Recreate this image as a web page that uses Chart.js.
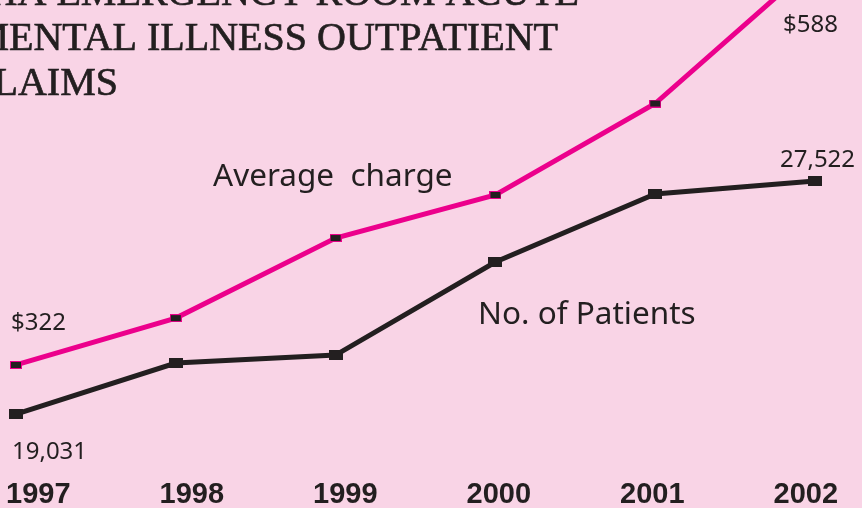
<!DOCTYPE html>
<html>
<head>
<meta charset="utf-8">
<script src="https://cdn.jsdelivr.net/npm/chart.js@4.4.1/dist/chart.umd.min.js"></script>
<style>
  html, body { margin: 0; padding: 0; background: #F9D4E6; overflow: hidden; }
  canvas { display: block; }
</style>
</head>
<body>
<canvas id="c" width="862" height="508"></canvas>
<script>
// ---- data ----
const years = [1997, 1998, 1999, 2000, 2001, 2002];
const averageCharge = [322, 353, 406, 434.5, 495, 588];          // dollars
const patientCount = [19031, 20890, 21180, 24570, 27050, 27522]; // patients
const titleLines = ['HA EMERGENCY ROOM ACUTE', 'MENTAL ILLNESS OUTPATIENT', 'CLAIMS'];
const seriesNames = ['Average  charge', 'No. of Patients'];

// ---- styles ----
const BG = '#F9D4E6';
const PINK = '#EC008C';
const INK = '#231F20';

function makeRect(w, h, fill, stroke, sw) {
  const c = document.createElement('canvas');
  c.width = w; c.height = h;
  const g = c.getContext('2d');
  g.fillStyle = stroke || fill;
  g.fillRect(0, 0, w, h);
  if (stroke) { g.fillStyle = fill; g.fillRect(sw, sw, w - 2 * sw, h - 2 * sw); }
  return c;
}
const pinkMarker = makeRect(12, 8, INK, PINK, 1);
const blackMarker = makeRect(14, 10, INK);

const fmt = n => Math.round(n).toLocaleString('en-US');

const decor = {
  id: 'decor',
  beforeDraw(chart) {
    const ctx = chart.ctx;
    ctx.save();
    ctx.fillStyle = BG;
    ctx.fillRect(0, 0, chart.width, chart.height);
    ctx.restore();
  },
  afterDraw(chart) {
    const ctx = chart.ctx;
    const xs = chart.scales.x, yP = chart.scales.yPink, yB = chart.scales.yBlack;
    ctx.save();
    // title (cropped serif heading)
    ctx.fillStyle = INK;
    ctx.strokeStyle = INK;
    ctx.lineWidth = 0.7;
    ctx.font = '41px "Liberation Serif", serif';
    ctx.textBaseline = 'alphabetic';
    const ref = ctx.measureText('ENTAL ILLNESS OUTPATIENT').width;
    const sx = 549 / ref;
    const rights = [579, 558, 118];
    const bases = [5, 50, 95];
    titleLines.forEach((t, i) => {
      ctx.save();
      ctx.translate(rights[i], bases[i]);
      ctx.scale(sx, 1);
      ctx.textAlign = 'right';
      ctx.fillText(t, 0, 0);
      ctx.strokeText(t, 0, 0);
      ctx.restore();
    });

    // series names
    ctx.textAlign = 'left';
    ctx.font = '31.5px "Noto Sans", sans-serif';
    ctx.fillText(seriesNames[0], 213, 186);
    ctx.fillText(seriesNames[1], 478, 324);

    // end value labels, placed relative to the points
    ctx.font = '24px "Noto Sans", sans-serif';
    const last = years.length - 1;
    const x0 = xs.getPixelForValue(years[0]);
    const xN = xs.getPixelForValue(years[last]);
    ctx.fillText('$' + fmt(averageCharge[0]), x0 - 5, yP.getPixelForValue(averageCharge[0]) - 35);
    ctx.fillText(fmt(patientCount[0]), x0 - 4, yB.getPixelForValue(patientCount[0]) + 45);
    ctx.fillText('$' + fmt(averageCharge[last]), xN - 32, yP.getPixelForValue(averageCharge[last]) + 69);
    ctx.fillText(fmt(patientCount[last]), xN - 35, yB.getPixelForValue(patientCount[last]) - 14);
    ctx.restore();
  }
};

new Chart(document.getElementById('c'), {
  type: 'line',
  data: {
    datasets: [
      {
        label: seriesNames[0],
        data: years.map((y, i) => ({ x: y, y: averageCharge[i] })),
        yAxisID: 'yPink',
        xAxisID: 'x',
        borderColor: PINK,
        borderWidth: 5,
        pointStyle: pinkMarker,
        pointRadius: 6,
        tension: 0,
        clip: false
      },
      {
        label: seriesNames[1],
        data: years.map((y, i) => ({ x: y, y: patientCount[i] })),
        yAxisID: 'yBlack',
        xAxisID: 'x',
        borderColor: INK,
        borderWidth: 5,
        pointStyle: blackMarker,
        pointRadius: 7,
        tension: 0,
        clip: false
      }
    ]
  },
  options: {
    responsive: false,
    animation: false,
    devicePixelRatio: 1,
    layout: { padding: 0, autoPadding: false },
    plugins: { legend: { display: false }, tooltip: { enabled: false }, title: { display: false } },
    scales: {
      x: { type: 'linear', display: false, position: 'bottom', min: 1996.8999, max: 2002.2942 },
      xYears: {
        type: 'linear', position: 'bottom', min: 1996.7505, max: 2002.3661,
        grid: { display: false, drawTicks: false },
        border: { display: false },
        afterBuildTicks: s => { s.ticks = years.map(v => ({ value: v })); },
        afterFit: s => { s.height = 35; s.paddingLeft = 0; s.paddingRight = 0; s.paddingTop = 0; s.paddingBottom = 0; },
        ticks: {
          autoSkip: false, maxRotation: 0, padding: 5,
          color: INK,
          font: { family: '"Liberation Sans", Arial, sans-serif', size: 29, weight: 'bold' },
          callback: v => String(v)
        }
      },
      yBlack: { type: 'linear', display: false, min: 16882.5, max: 34118.6 },
      yPink: { type: 'linear', display: false, min: 250.5, max: 563.5 }
    }
  },
  plugins: [decor]
});
</script>
</body>
</html>
